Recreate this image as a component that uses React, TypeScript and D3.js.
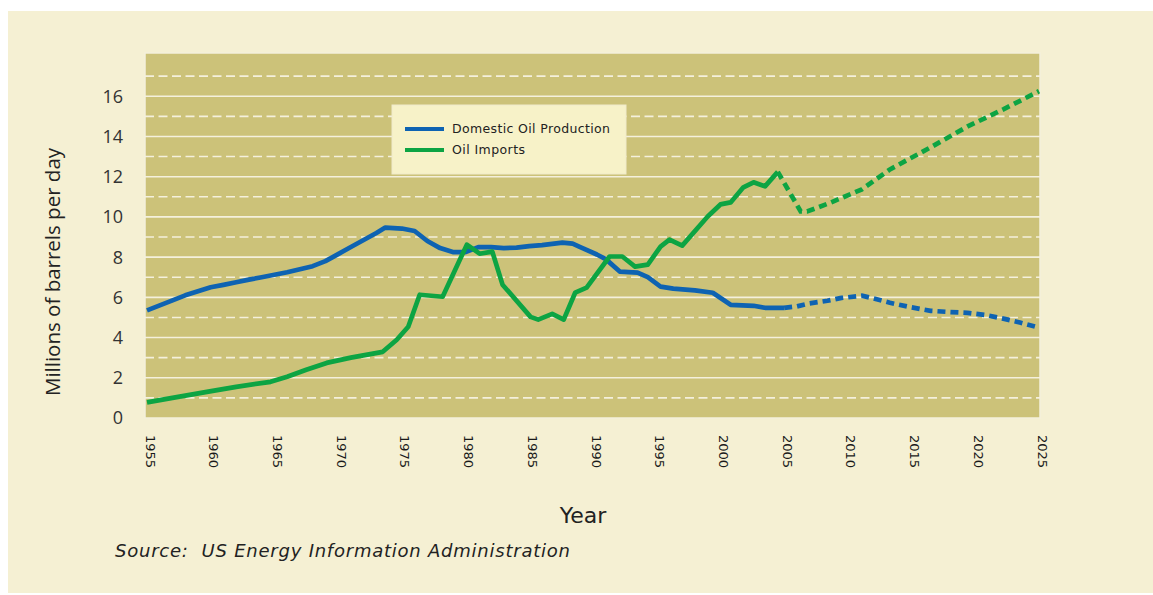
import React from "react";
import * as d3 from "d3";

const yearTicks = [1955, 1960, 1965, 1970, 1975, 1980, 1985, 1990, 1995, 2000, 2005, 2010, 2015, 2020, 2025];
const valueTicks = [0, 2, 4, 6, 8, 10, 12, 14, 16];

const domesticHistory: [number, number][] = [
  [1955, 5.35], [1956, 5.6], [1957, 5.85], [1958, 6.1], [1959, 6.3], [1960, 6.5],
  [1961, 6.62], [1962, 6.75], [1963, 6.88], [1964, 7.0], [1965, 7.12], [1966, 7.25],
  [1967, 7.4], [1968, 7.55], [1969, 7.8], [1970, 8.15], [1971, 8.5], [1972, 8.85],
  [1973, 9.2], [1973.7, 9.47], [1975, 9.42], [1976, 9.3], [1977, 8.8], [1978, 8.45],
  [1979, 8.25], [1980, 8.25], [1981, 8.5], [1982, 8.5], [1983, 8.45], [1984, 8.47],
  [1985, 8.55], [1986, 8.6], [1987.6, 8.72], [1988.4, 8.67], [1989, 8.5], [1990.3, 8.13],
  [1991, 7.9], [1992.1, 7.28], [1993.5, 7.23], [1994.3, 7.0], [1995.3, 6.53], [1996.3, 6.43],
  [1998, 6.35], [1999.4, 6.23], [2000.8, 5.63], [2002.6, 5.58], [2003.5, 5.48], [2005, 5.48]
];

const domesticProjection: [number, number][] = [
  [2005, 5.48], [2006, 5.55], [2007, 5.7], [2008.4, 5.83], [2009.5, 5.97], [2011.1, 6.08],
  [2012, 5.95], [2013.3, 5.73], [2015, 5.5], [2016.5, 5.33], [2018, 5.27], [2019.4, 5.23],
  [2021, 5.1], [2022.2, 4.94], [2023.5, 4.75], [2025, 4.49]
];

const importsHistory: [number, number][] = [
  [1955, 0.78], [1957, 1.0], [1959.7, 1.3], [1962, 1.55], [1964.7, 1.8], [1966, 2.05],
  [1967.5, 2.4], [1969.1, 2.74], [1971, 3.0], [1973.5, 3.29], [1974.6, 3.89], [1975.5, 4.54],
  [1976.4, 6.13], [1978.2, 6.03], [1980.1, 8.62], [1981.1, 8.17], [1982.1, 8.27], [1982.9, 6.63],
  [1985.1, 5.03], [1985.7, 4.89], [1986.8, 5.18], [1987.7, 4.89], [1988.6, 6.23], [1989.5, 6.48],
  [1991.3, 8.03], [1992.3, 8.03], [1993.3, 7.53], [1994.3, 7.63], [1995.3, 8.52], [1996, 8.87],
  [1997, 8.57], [1999, 10.02], [2000, 10.62], [2000.8, 10.72], [2001.8, 11.47], [2002.6, 11.72],
  [2003.5, 11.52], [2004.5, 12.24]
];

const importsProjection: [number, number][] = [
  [2004.5, 12.24], [2006.3, 10.27], [2006.8, 10.27], [2008.6, 10.7], [2011.1, 11.37],
  [2013.3, 12.36], [2016.5, 13.46], [2019.4, 14.5], [2022.2, 15.35], [2025, 16.25]
];

const legendItems = [
  { label: "Domestic Oil Production", color: "#0E63B2", width: 158 },
  { label: "Oil Imports", color: "#0DA443", width: 73 }
];

const BLUE = "#0E63B2";
const GREEN = "#0DA443";
const FONT = "'Open Sans', 'DejaVu Sans', sans-serif";
const DJ = "'DejaVu Sans', sans-serif";

export default function App() {
  const plotLeft = 145, plotRight = 1040, plotTop = 53, plotBottom = 418;
  const x = d3.scaleLinear().domain([1955, 2025]).range([147, 1039]);
  const y = d3.scaleLinear().domain([0, 18.15]).range([plotBottom, plotTop]);
  const line = d3.line<[number, number]>().x(d => x(d[0])).y(d => y(d[1]));
  const gridVals = d3.range(1, 18);

  return (
    <svg width={1153} height={595} style={{ position: "absolute", left: 0, top: 0 }}>
      <rect x={8} y={11} width={1145} height={582} fill="#F5F0D3" />
      <rect x={plotLeft} y={plotTop} width={plotRight - plotLeft} height={plotBottom - plotTop}
        fill="#CCC279" stroke="#F4F0DC" strokeWidth={1.5} />
      {gridVals.map(v => (
        <line key={v} x1={plotLeft} x2={plotRight} y1={y(v)} y2={y(v)}
          stroke="#F4F0DC" strokeWidth={1.6}
          strokeDasharray={v % 2 === 1 ? "9,4.5" : undefined} />
      ))}
      {valueTicks.map(v => (
        <text key={v} x={123} y={y(v)} dy="0.36em" textAnchor="end" fontFamily={FONT}
          fontSize={18} fill="#333">{v}</text>
      ))}
      {yearTicks.map(t => (
        <text key={t} transform={`translate(${x(t) + 3},435) rotate(90)`} dominantBaseline="central"
          fontFamily={DJ} fontSize={13} fill="#1a1a1a">{t}</text>
      ))}
      <path d={line(domesticHistory) || ""} fill="none" stroke={BLUE} strokeWidth={4.7} strokeLinejoin="round" />
      <path d={line(importsHistory) || ""} fill="none" stroke={GREEN} strokeWidth={4.7} strokeLinejoin="round" />
      <path d={line(domesticProjection) || ""} fill="none" stroke={BLUE} strokeWidth={4.7} strokeDasharray="8,5" />
      <path d={line(importsProjection) || ""} fill="none" stroke={GREEN} strokeWidth={4.7} strokeDasharray="8,5" />

      <rect x={392} y={105} width={234} height={69} fill="#F7F2C8" stroke="#EFEACB" />
      {legendItems.map((it, i) => (
        <g key={it.label}>
          <line x1={405} x2={444} y1={129 + i * 21} y2={129 + i * 21} stroke={it.color} strokeWidth={4} />
          <text x={452} y={129 + i * 21} dy="0.35em" fontFamily={DJ} fontSize={12.5}
            fill="#222" textLength={it.width} lengthAdjust="spacing">{it.label}</text>
        </g>
      ))}

      <text transform="translate(52,272) rotate(-90)" textAnchor="middle" dominantBaseline="central"
        fontFamily={FONT} fontSize={20.5} fill="#222">Millions of barrels per day</text>
      <text x={583} y={523} textAnchor="middle" fontFamily={DJ} fontSize={22} fill="#222">Year</text>
      <text x={115} y={557} fontFamily={DJ} fontSize={18} fontStyle="italic" fill="#222"
        xmlSpace="preserve" textLength={455} lengthAdjust="spacing">Source:  US Energy Information Administration</text>
    </svg>
  );
}
